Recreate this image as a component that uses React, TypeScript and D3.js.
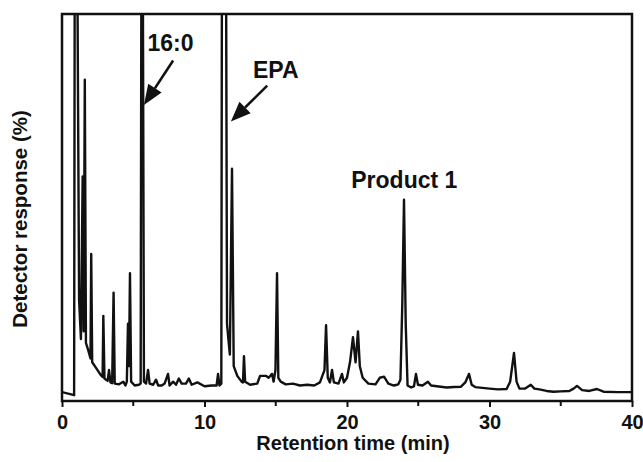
import React, { useEffect, useRef } from 'react';
import * as d3 from 'd3';

// retention time (min) and detector response (%)
const times = [
  0, 0.85, 0.9, 1.05, 1.2, 1.33, 1.45, 1.52, 1.6, 1.68, 1.85, 2.0, 2.05, 2.12, 2.4, 2.7, 2.85, 2.9, 2.98,
  3.2, 3.3, 3.4, 3.52, 3.62, 3.7, 4.0, 4.3, 4.45, 4.55, 4.63, 4.7, 4.77, 4.85, 5.1, 5.4, 5.52, 5.58, 5.66,
  5.75, 5.9, 6.04, 6.15, 6.4, 6.6, 6.75, 7.0, 7.2, 7.44, 7.55, 7.8, 8.0, 8.2, 8.4, 8.7, 8.9, 9.1, 9.5,
  10.0, 10.5, 10.85, 10.95, 11.05, 11.18, 11.23, 11.5, 11.58, 11.65, 11.78, 11.93, 12.05, 12.3, 12.6,
  12.7, 12.77, 12.85, 13.2, 13.7, 13.9, 14.3, 14.5, 14.74, 14.85, 14.98, 15.09, 15.18, 15.35, 15.7, 16.2,
  16.7, 17.2, 17.7, 18.1, 18.42, 18.53, 18.65, 18.8, 18.95, 19.08, 19.4, 19.65, 19.78, 20.0, 20.21, 20.42,
  20.6, 20.77, 20.9, 21.1, 21.5, 22.0, 22.3, 22.6, 22.9, 23.3, 23.6, 23.75, 23.88, 24.0, 24.12, 24.25,
  24.5, 24.7, 24.84, 24.98, 25.3, 25.68, 25.9, 26.3, 27.0, 27.5, 28.0, 28.3, 28.56, 28.75, 29.0, 29.5,
  30.0, 30.6, 31.2, 31.45, 31.72, 31.9, 32.1, 32.5, 32.9, 33.15, 33.5, 34.0, 34.5, 35.0, 35.6, 35.9,
  36.14, 36.5, 37.0, 37.54, 38.0, 39.0, 40.0,
];
const response = [
  2.3, 1.5, 130, 130, 26, 16, 58, 18, 83, 15, 13, 11, 38, 10, 8.5, 6.8, 6.2, 22, 5.8,
  5.2, 8, 4.8, 4.6, 28, 4.5, 4.3, 5, 4, 5, 20, 9, 33, 5, 4, 4.2, 4.5, 130, 130,
  5, 4.5, 8, 4.5, 4.2, 5.5, 4, 4, 4.5, 7, 4, 5, 4.2, 5.8, 4.5, 4.5, 5.8, 4.2, 4.8,
  3.8, 4, 4, 7, 4, 4.5, 130, 130, 20, 17, 12, 60, 9, 6.5, 5,
  4.8, 11.6, 5, 4.2, 4.5, 6.5, 6.5, 6, 7, 5, 8, 33, 6, 5, 4.3, 4.5,
  4, 4.2, 4, 4.8, 8, 19.6, 6, 4.8, 8, 4.8, 4.5, 7, 4.8, 6, 10, 16.5,
  10, 18, 9, 6, 4.5, 4.3, 6, 6.3, 4.5, 4, 4.3, 5.5, 25, 52, 20, 4,
  3.5, 3.8, 7, 4.2, 4, 5, 4, 3.8, 3.5, 3.6, 3.7, 4.8, 7, 4.2, 3.6, 3.4,
  3.2, 3, 3.1, 5, 12.4, 5, 3.2, 3.2, 4.2, 3.2, 3, 2.6, 2.4, 2.5, 2.6, 3.2,
  3.9, 2.8, 2.6, 3.1, 2.4, 2.3, 2.3,
];
const xTicks = [0, 10, 20, 30, 40];
const xMinorTicks = [5, 15, 25, 35];

// peak labels: text, text position (min, %), arrow from/to (min, %)
const labels = ['16:0', 'EPA', 'Product 1'];
const labelPos = [[6.0, 90.5], [13.4, 83.5], [20.3, 55]];
const arrowFrom = [[7.8, 88], [14.4, 81.5], null];
const arrowTo = [[5.75, 76.5], [11.85, 72.2], null];

const App = () => {
  const ref = useRef(null);

  useEffect(() => {
    const svg = d3.select(ref.current);
    svg.selectAll('*').remove();

    const left = 62, right = 632, top = 14, bottom = 401;
    const x = d3.scaleLinear().domain([0, 40]).range([left, right]);
    const y = d3.scaleLinear().domain([0, 100]).range([bottom, top]);
    const font = 'Liberation Sans, Arial, sans-serif';

    svg.append('defs').append('clipPath').attr('id', 'plot')
      .append('rect').attr('x', left).attr('y', top).attr('width', right - left).attr('height', bottom - top);

    const pts = times.map((t, i) => [t, response[i]]);
    const line = d3.line().x(d => x(d[0])).y(d => y(d[1]));

    svg.append('path')
      .datum(pts)
      .attr('d', line)
      .attr('clip-path', 'url(#plot)')
      .attr('fill', 'none')
      .attr('stroke', '#111')
      .attr('stroke-width', 2.4)
      .attr('stroke-linejoin', 'round');

    // frame
    svg.append('rect')
      .attr('x', left).attr('y', top)
      .attr('width', right - left).attr('height', bottom - top)
      .attr('fill', 'none').attr('stroke', '#111').attr('stroke-width', 2.5);

    const axis = svg.append('g')
      .attr('transform', `translate(0,${bottom})`)
      .call(d3.axisBottom(x).tickValues(xTicks).tickSize(6).tickPadding(8).tickFormat(d3.format('d')));
    axis.select('.domain').remove();
    axis.selectAll('line').attr('stroke', '#111').attr('stroke-width', 2);
    axis.selectAll('text')
      .attr('fill', '#111')
      .style('font-family', font).style('font-weight', 'bold').style('font-size', '20px');

    svg.append('g').selectAll('line')
      .data(xMinorTicks)
      .enter()
      .append('line')
      .attr('x1', d => x(d)).attr('x2', d => x(d))
      .attr('y1', bottom).attr('y2', bottom + 5)
      .attr('stroke', '#111').attr('stroke-width', 2);

    svg.append('text')
      .attr('x', (left + right) / 2 + 6)
      .attr('y', 450)
      .attr('text-anchor', 'middle')
      .style('font-family', font).style('font-weight', 'bold').style('font-size', '20px')
      .attr('fill', '#111')
      .text('Retention time (min)');

    svg.append('text')
      .attr('transform', 'rotate(-90)')
      .attr('x', -219)
      .attr('y', 27)
      .attr('text-anchor', 'middle')
      .style('font-family', font).style('font-weight', 'bold').style('font-size', '20.5px')
      .attr('fill', '#111')
      .text('Detector response (%)');

    labels.forEach((lab, i) => {
      svg.append('text')
        .attr('x', x(labelPos[i][0]))
        .attr('y', y(labelPos[i][1]))
        .style('font-family', font).style('font-weight', 'bold').style('font-size', '23px')
        .attr('fill', '#111')
        .text(lab);

      const from = arrowFrom[i], to = arrowTo[i];
      if (!from || !to) return;
      const x1 = x(from[0]), y1 = y(from[1]), x2 = x(to[0]), y2 = y(to[1]);
      const ang = Math.atan2(y2 - y1, x2 - x1);
      const headLen = 20, headW = 8;
      const bx = x2 - headLen * Math.cos(ang), by = y2 - headLen * Math.sin(ang);
      svg.append('line')
        .attr('x1', x1).attr('y1', y1).attr('x2', bx).attr('y2', by)
        .attr('stroke', '#111').attr('stroke-width', 2.5);
      const px = -Math.sin(ang) * headW, py = Math.cos(ang) * headW;
      svg.append('polygon')
        .attr('points', `${x2},${y2} ${bx + px},${by + py} ${bx - px},${by - py}`)
        .attr('fill', '#111');
    });
  }, []);

  return (
    <svg ref={ref} width={643} height={462}
      style={{ position: 'absolute', left: 0, top: 0, background: '#fff' }} />
  );
};

export default App;
